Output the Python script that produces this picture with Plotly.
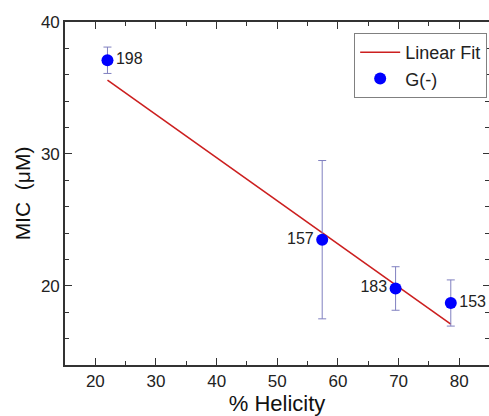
import plotly.graph_objects as go

# Data
helicity = [22.0, 57.4, 69.5, 78.6]
mic = [37.1, 23.5, 19.8, 18.7]
mic_err = [1.0, 6.0, 1.65, 1.75]
labels = ["198", "157", "183", "153"]
label_pos = ["middle right", "middle left", "middle left", "middle right"]

fit_x = [22.0, 78.6]
fit_y = [35.6, 17.1]

FONT = "Liberation Sans, Arial, sans-serif"

fig = go.Figure()
fig.add_trace(go.Scatter(
    x=fit_x, y=fit_y, mode="lines", name="Linear Fit",
    line=dict(color="#cc1f1f", width=1.6),
))
fig.add_trace(go.Scatter(
    x=helicity, y=mic, mode="markers+text", name="G(-)",
    text=labels, textposition=label_pos,
    textfont=dict(family=FONT, size=16, color="#222"),
    marker=dict(color="#0000ff", size=12),
    error_y=dict(type="data", array=mic_err, visible=True,
                 color="#8080c0", thickness=1, width=4),
))
# invisible trace to anchor right-side tick axis
fig.add_trace(go.Scatter(x=[None], y=[None], yaxis="y2", showlegend=False,
                         hoverinfo="skip"))

fig.update_layout(
    width=489, height=416,
    margin=dict(l=65, r=0, t=22, b=51),
    paper_bgcolor="white", plot_bgcolor="white",
    font=dict(family=FONT, size=17, color="#222"),
    showlegend=True,
    legend=dict(x=0.682, y=0.968, xanchor="left", yanchor="top",
                bordercolor="#808080", borderwidth=1, bgcolor="white",
                font=dict(family=FONT, size=18, color="#222"),
                tracegroupgap=0, itemwidth=40),
    xaxis=dict(
        range=[15, 84.9], dtick=10, tick0=0,
        showline=True, linecolor="#333", linewidth=1.6, mirror="ticks",
        ticks="inside", ticklen=7, tickcolor="#333", tickwidth=1.3,
        minor=dict(dtick=5, ticks="inside", ticklen=4, tickcolor="#333"),
        showgrid=False, zeroline=False,
        tickfont=dict(size=17, color="#222"),
        title=dict(text="% Helicity", font=dict(size=22, color="#111"), standoff=4),
    ),
    yaxis=dict(
        range=[14, 40], dtick=10, tick0=0,
        showline=True, linecolor="#333", linewidth=1.6, mirror=False,
        ticks="inside", ticklen=7, tickcolor="#333", tickwidth=1.3,
        minor=dict(dtick=2, ticks="inside", ticklen=4, tickcolor="#333"),
        showgrid=False, zeroline=False,
        tickfont=dict(size=17, color="#222"),
        title=dict(text="MIC \u00a0(\u03bcM)", font=dict(size=21, color="#111"), standoff=5),
    ),
    yaxis2=dict(
        range=[14, 40], dtick=10, tick0=0, overlaying="y", side="right",
        showline=False, showticklabels=False,
        ticks="inside", ticklen=6, tickcolor="#333", tickwidth=1.3,
        minor=dict(dtick=2, ticks="inside", ticklen=4, tickcolor="#333"),
        showgrid=False, zeroline=False,
    ),
)

fig.write_html("out.html")
